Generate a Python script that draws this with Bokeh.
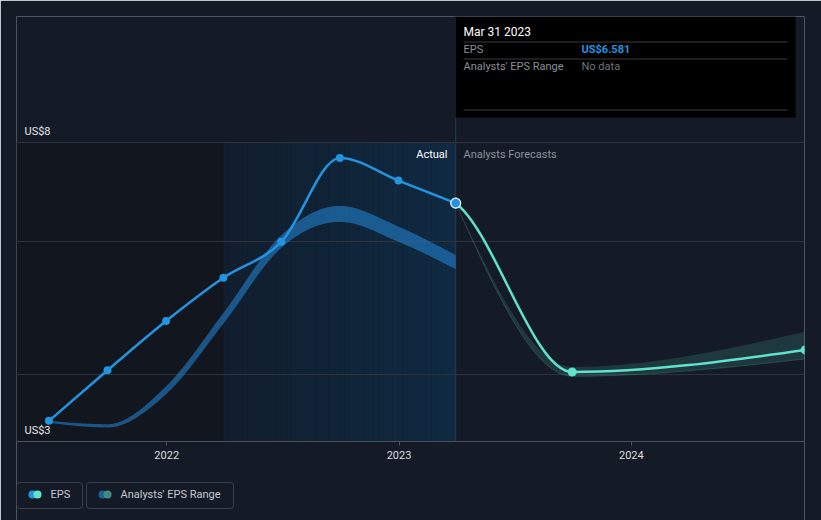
import re
import numpy as np
from bokeh.plotting import figure
from bokeh.models import (Range1d, FixedTicker, BoxAnnotation, Label,
                          DatetimeTickFormatter)
from bokeh.embed import file_html
from bokeh.resources import INLINE

# ---------------- data ----------------
eps_dates = ["2021-06-30", "2021-09-30", "2021-12-31", "2022-03-31",
             "2022-06-30", "2022-09-30", "2022-12-31", "2023-03-31"]
eps_values = [3.31, 4.07, 4.81, 5.46, 6.00, 7.26, 6.92, 6.581]
past_range_low = [3.28, 3.21, 3.71, 4.77, 5.91, 6.30, 6.00, 5.59]
past_range_high = [3.31, 3.26, 3.83, 4.93, 6.10, 6.54, 6.23, 5.80]

fc_dates = ["2023-03-31", "2023-09-30", "2024-09-30"]
fc_values = [6.581, 4.045, 4.376]
fc_range_low = [6.581, 3.98, 4.24]
fc_range_high = [6.581, 4.12, 4.65]

year_ticks = ["2022-01-01", "2023-01-01", "2024-01-01"]
y_grid_values = [4.0, 6.0, 7.5]
y_bottom = 3.0
y_top_label = "US$8"
y_bottom_label = "US$3"
x_start, x_end = "2021-05-10", "2024-09-29"

tooltip_date = "Mar 31 2023"
tooltip_eps = "US$6.581"

# ---------------- colours ----------------
BG = "#151b26"
BLUE = "#2394e0"
TEAL = "#5fe3cc"
GRID = "#2d323c"
FONT = "Roboto"


def ms(d):
    return float(np.datetime64(d, "ms").astype("int64"))


def tangents(x, y):
    x = np.asarray(x, float)
    y = np.asarray(y, float)
    n = len(x)
    h = np.diff(x)
    s = np.diff(y) / h
    t = np.zeros(n)
    sg = lambda v: -1.0 if v < 0 else 1.0
    for i in range(1, n - 1):
        p_ = (s[i - 1] * h[i] + s[i] * h[i - 1]) / (h[i - 1] + h[i])
        t[i] = (sg(s[i - 1]) + sg(s[i])) * min(abs(s[i - 1]), abs(s[i]), 0.5 * abs(p_))
    if n > 2:
        t[0] = (3 * s[0] - t[1]) / 2
        t[-1] = (3 * s[-1] - t[-2]) / 2
    else:
        t[:] = s[0]
    return t


def bezier_data(x, y, t, start=0):
    d = dict(x0=[], y0=[], x1=[], y1=[], cx0=[], cy0=[], cx1=[], cy1=[])
    for i in range(start, len(x) - 1):
        dx = (x[i + 1] - x[i]) / 3.0
        d["x0"].append(x[i]); d["y0"].append(y[i])
        d["x1"].append(x[i + 1]); d["y1"].append(y[i + 1])
        d["cx0"].append(x[i] + dx); d["cy0"].append(y[i] + dx * t[i])
        d["cx1"].append(x[i + 1] - dx); d["cy1"].append(y[i + 1] - dx * t[i + 1])
    return d


def curve_samples(x, y, t, n=40):
    xs, ys = [], []
    for i in range(len(x) - 1):
        h = x[i + 1] - x[i]
        u = np.linspace(0, 1, n, endpoint=(i == len(x) - 2))
        h00 = 2 * u**3 - 3 * u**2 + 1
        h10 = u**3 - 2 * u**2 + u
        h01 = -2 * u**3 + 3 * u**2
        h11 = u**3 - u**2
        ys.extend(h00 * y[i] + h10 * h * t[i] + h01 * y[i + 1] + h11 * h * t[i + 1])
        xs.extend(x[i] + u * h)
    return np.array(xs), np.array(ys)


ex = [ms(d) for d in eps_dates]
fx = [ms(d) for d in fc_dates]
y_top_grid = max(y_grid_values)

# ---------------- figure ----------------
W, H = 821, 520
FRAME_L, FRAME_R, FRAME_T, FRAME_B = 16, 804, 16, 520
AXIS_Y = 441
px_per_unit = (AXIS_Y - 141.5) / (y_top_grid - y_bottom)
y_start = y_bottom - (FRAME_B - AXIS_Y) / px_per_unit
y_end = y_bottom + (AXIS_Y - FRAME_T) / px_per_unit

p = figure(width=W, height=H, output_backend="svg", toolbar_location=None,
           x_axis_type="datetime", y_axis_location=None,
           x_range=Range1d(ms(x_start), ms(x_end)),
           y_range=Range1d(y_start, y_end),
           min_border_left=FRAME_L, min_border_right=W - FRAME_R,
           min_border_top=FRAME_T, min_border_bottom=H - FRAME_B)
p.background_fill_color = BG
p.border_fill_color = BG
p.outline_line_color = None
p.xgrid.grid_line_color = None
p.ygrid.ticker = FixedTicker(ticks=y_grid_values)
p.ygrid.grid_line_color = GRID
p.ygrid.grid_line_width = 1

ax = p.xaxis[0]
ax.fixed_location = y_bottom
ax.ticker = FixedTicker(ticks=[ms(d) for d in year_ticks])
ax.formatter = DatetimeTickFormatter(years="%Y", months="%Y", days="%Y",
                                     hours="%Y", hourmin="%Y")
ax.axis_line_color = "#4b505a"
ax.major_tick_line_color = "#4b505a"
ax.major_tick_in = 0
ax.major_tick_out = 4
ax.minor_tick_line_color = None
ax.major_label_text_color = "#dcdcdc"
ax.major_label_text_font = FONT
ax.major_label_text_font_size = "11px"
ax.major_label_standoff = 5

# ---------------- background shading ----------------
p.quad(left=[ms(x_start)], right=[ex[3]], bottom=[y_bottom], top=[y_top_grid],
       fill_color="#12161e", line_color=None, level="image")
N = 48
edges = np.linspace(ex[3], ex[-1], N + 1)
c0 = np.array([17, 30, 45])
c1 = np.array([15, 42, 66])
cols = []
for k in range(N):
    f = (k + 0.5) / N
    c = (c0 + (c1 - c0) * f).round().astype(int)
    cols.append("#%02x%02x%02x" % tuple(c))
p.quad(left=edges[:-1], right=edges[1:] + (edges[1] - edges[0]) * 0.05,
       bottom=[y_bottom] * N, top=[y_top_grid] * N,
       fill_color=cols, line_color=None, level="image")

# ---------------- divider between actual and forecast ----------------
p.segment(x0=[ex[-1]], y0=[y_bottom], x1=[ex[-1]], y1=[y_end],
          line_color="#283c52", line_width=1)

# ---------------- past analyst range band ----------------
tl = tangents(ex, past_range_low)
th = tangents(ex, past_range_high)
bx, bl = curve_samples(ex, past_range_low, tl)
_, bh = curve_samples(ex, past_range_high, th)
p.varea(x=bx, y1=bl, y2=bh, fill_color="#2383d0", fill_alpha=0.58)

# ---------------- forecast range band ----------------
ftl = tangents(fx, fc_range_low)
fth = tangents(fx, fc_range_high)
fbx, fbl = curve_samples(fx, fc_range_low, ftl)
_, fbh = curve_samples(fx, fc_range_high, fth)
p.varea(x=fbx, y1=fbl, y2=fbh, fill_color=TEAL, fill_alpha=0.15)
p.line(x=fbx, y=fbl, line_color=TEAL, line_alpha=0.18, line_width=1)

# ---------------- actual EPS line ----------------
et = tangents(ex, eps_values)
p.bezier(**bezier_data(ex, eps_values, et), line_color=BLUE, line_width=2.5,
         line_cap="round")

# ---------------- forecast EPS line ----------------
cx = [ex[-2]] + fx
cy = [eps_values[-2]] + fc_values
ct = tangents(cx, cy)
p.bezier(**bezier_data(cx, cy, ct, start=1), line_color=TEAL, line_width=2.5,
         line_cap="round")

# ---------------- points ----------------
p.scatter(x=ex[:-1], y=eps_values[:-1], size=8, fill_color=BLUE, line_color=None)
p.scatter(x=fx[1:], y=fc_values[1:], size=9, fill_color=TEAL, line_color=None)
p.scatter(x=[ex[-1]], y=[eps_values[-1]], size=10, fill_color=BLUE,
          line_color="#ffffff", line_width=1.2)


# ---------------- annotations in page pixels ----------------
def sx(X):
    return X - FRAME_L


def sy(Y):
    return FRAME_B - Y


def text(X, Y, s, color, size="11px", align="left", style="normal"):
    p.add_layout(Label(x=sx(X), y=sy(Y), x_units="screen", y_units="screen",
                       text=s, text_color=color, text_font=FONT,
                       text_font_size=size, text_align=align,
                       text_baseline="middle", text_font_style=style))


def box(X0, Y0, X1, Y1, fill=None, line=None, radius=0, lw=1):
    p.add_layout(BoxAnnotation(left=sx(X0), right=sx(X1), top=sy(Y0), bottom=sy(Y1),
                               left_units="screen", right_units="screen",
                               top_units="screen", bottom_units="screen",
                               fill_color=fill if fill else "#000000",
                               fill_alpha=1 if fill else 0,
                               line_color=line if line else "#000000",
                               line_alpha=1 if line else 0,
                               line_width=lw, border_radius=radius))


text(24, 131, y_top_label, "#e6e6e6")
text(24, 430, y_bottom_label, "#e6e6e6")
text(447, 154, "Actual", "#ffffff", align="right")
text(463, 154, "Analysts Forecasts", "#8d929b")

# tooltip
box(455, 16, 795, 117, fill="#000000")
for Y in (41, 58, 109):
    box(463, Y, 787, Y + 1, fill="#3a3a3a")
text(463, 31, tooltip_date, "#ffffff", size="12px")
text(463, 49, "EPS", "#8a8f98")
text(581, 49, tooltip_eps, BLUE, style="bold")
text(463, 66, "Analysts' EPS Range", "#8a8f98")
text(581, 66, "No data", "#70757d")

# legend
box(16, 482, 82, 508, line="#3a404a", radius=3)
box(28, 490, 36, 498, fill=BLUE, radius=4)
box(33, 490, 41, 498, fill=TEAL, radius=4)
text(50, 494, "EPS", "#c4c8cf")
box(86, 482, 233, 508, line="#3a404a", radius=3)
box(98, 490, 106, 498, fill="#1f5f91", radius=4)
box(103, 490, 111, 498, fill="#3f8c86", radius=4)
text(120, 494, "Analysts' EPS Range", "#c4c8cf")

html = file_html(p, INLINE)
html = re.sub(r"<body([^>]*)>", r'<body\1 style="background-color:%s;">' % BG, html, count=1)
open("out.html", "w").write(html)
